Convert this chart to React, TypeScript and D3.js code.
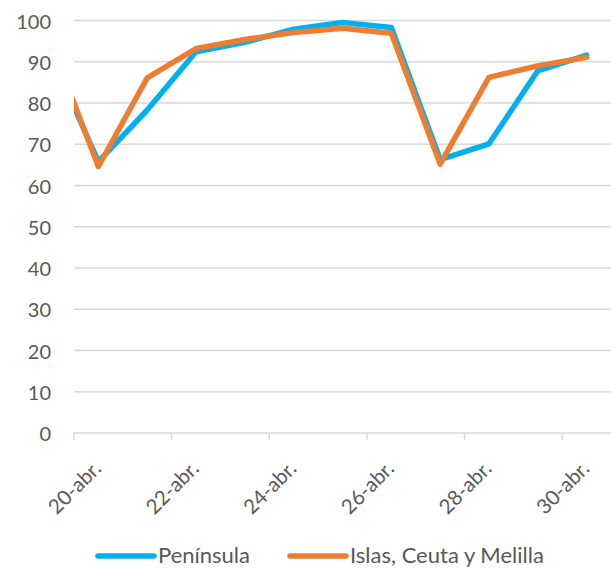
import React from "react";
import * as d3 from "d3";

const days = [19, 20, 21, 22, 23, 24, 25, 26, 27, 28, 29, 30];
const peninsula = [92.2, 65.8, 78.3, 92.4, 94.7, 97.9, 99.5, 98.3, 66.3, 70.1, 87.8, 91.6];
const islas = [95.4, 64.6, 86.1, 93.2, 95.4, 97.1, 98.1, 96.9, 65.2, 86.2, 89.0, 91.1];
const xTicks = [20, 22, 24, 26, 28, 30];
const yTicks = [0, 10, 20, 30, 40, 50, 60, 70, 80, 90, 100];
const seriesNames = ["Península", "Islas, Ceuta y Melilla"];
const colors = ["#00B0F0", "#ED7D31"];

const W = 611;
const H = 568;
const left = 74;
const right = 611;
const top = 20.5;
const bottom = 433;
const FONT = "Lato, 'Open Sans', sans-serif";

export default function App() {
  const x = d3.scaleLinear().domain([20, 31]).range([left, right]);
  const y = d3.scaleLinear().domain([0, 100]).range([bottom, top]);
  const line = d3
    .line<number>()
    .x((_, i) => x(days[i] + 0.5))
    .y((d) => y(d));
  const series = [peninsula, islas];

  return (
    <svg
      width={W}
      height={H}
      style={{ position: "absolute", left: 0, top: 0, background: "#fff" }}
      fontFamily={FONT}
    >
      <defs>
        <clipPath id="plot">
          <rect x={left} y={0} width={right - left + 10} height={bottom + 10} />
        </clipPath>
      </defs>
      {yTicks.map((t) => (
        <g key={t}>
          <line x1={left} x2={right} y1={y(t)} y2={y(t)} stroke="#D9D9D9" strokeWidth={1.5} />
          <text
            x={51}
            y={y(t)}
            textAnchor="end"
            dominantBaseline="central"
            fontSize={20}
            fill="#595959"
          >
            {t}
          </text>
        </g>
      ))}
      {xTicks.map((t) => (
        <g key={t}>
          <line x1={x(t)} x2={x(t)} y1={bottom} y2={bottom + 7} stroke="#D9D9D9" strokeWidth={1.5} />
          <text
            transform={`translate(${x(t)},${487}) rotate(-45)`}
            textAnchor="middle"
            dominantBaseline="central"
            fontSize={20.5}
            fill="#595959"
          >
            {`${t}-abr.`}
          </text>
        </g>
      ))}
      <g clipPath="url(#plot)">
        {series.map((s, i) => (
          <path
            key={i}
            d={line(s) ?? ""}
            fill="none"
            stroke={colors[i]}
            strokeWidth={5.5}
            strokeLinejoin="round"
            strokeLinecap="round"
          />
        ))}
      </g>
      {seriesNames.map((n, i) => {
        const lx = i === 0 ? 98 : 290;
        return (
          <g key={n}>
            <line
              x1={lx}
              x2={lx + 56}
              y1={556}
              y2={556}
              stroke={colors[i]}
              strokeWidth={5.5}
              strokeLinecap="round"
            />
            <text x={lx + 60} y={562.5} fontSize={22} fill="#595959">
              {n}
            </text>
          </g>
        );
      })}
    </svg>
  );
}
